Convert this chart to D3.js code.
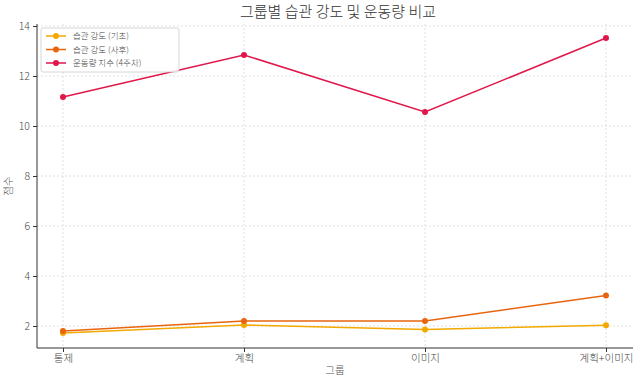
<!DOCTYPE html>
<html><head><meta charset="utf-8">
<script src="https://cdn.jsdelivr.net/npm/d3@7"></script>
<style>body{margin:0;background:#fff}svg{display:block}text{font-family:"Noto Sans CJK KR","Noto Sans",sans-serif;font-weight:300}</style>
</head><body>
<svg id="c" width="640" height="384"></svg>
<script>
const categories = ["통제", "계획", "이미지", "계획+이미지"];
const baseline = [1.72, 2.04, 1.86, 2.03];
const post = [1.80, 2.20, 2.20, 3.22];
const exercise = [11.16, 12.84, 10.56, 13.52];
const seriesNames = ["습관 강도 (기초)", "습관 강도 (사후)", "운동량 지수 (4주차)"];
const seriesColors = ["#f2a900", "#e8650f", "#e0174a"];
const yTicks = [2, 4, 6, 8, 10, 12, 14];
const title = "그룹별 습관 강도 및 운동량 비교";
const xTitle = "그룹";
const yTitle = "점수";

const series = [baseline, post, exercise];
const svg = d3.select("#c");
const L = 37, R = 633, T = 24, B = 348;
const x = d3.scalePoint().domain(categories).range([63, 606]);
const y = d3.scaleLinear().domain([1.12, 14.08]).range([B, T]);

// grid
const g = svg.append("g");
g.selectAll(".gx").data(categories).enter().append("line")
  .attr("x1", d => x(d)).attr("x2", d => x(d)).attr("y1", T).attr("y2", B)
  .attr("stroke", "#d8d8d8").attr("stroke-width", 0.8).attr("stroke-dasharray", "2,2");
g.selectAll(".gy").data(yTicks).enter().append("line")
  .attr("x1", L).attr("x2", R).attr("y1", d => y(d)).attr("y2", d => y(d))
  .attr("stroke", "#d8d8d8").attr("stroke-width", 0.8).attr("stroke-dasharray", "2,2");

// axes
const xa = svg.append("g").attr("transform", `translate(0,${B})`)
  .call(d3.axisBottom(x).tickSize(4).tickPadding(3));
const ya = svg.append("g").attr("transform", `translate(${L},0)`)
  .call(d3.axisLeft(y).tickValues(yTicks).tickSize(4).tickPadding(3));
[xa, ya].forEach(a => {
  a.select(".domain").remove();
  a.selectAll("line").attr("stroke", "#333");
  a.selectAll("text").attr("fill", "#444").attr("font-size", 10.5);
});
svg.append("line").attr("x1", L).attr("x2", L).attr("y1", T).attr("y2", B).attr("stroke", "#333").attr("stroke-width", 1);
svg.append("line").attr("x1", L).attr("x2", R).attr("y1", B).attr("y2", B).attr("stroke", "#333").attr("stroke-width", 1);

// lines
const line = d3.line().x((d, i) => x(categories[i])).y(d => y(d));
series.forEach((s, k) => {
  svg.append("path").datum(s).attr("d", line).attr("fill", "none")
    .attr("stroke", seriesColors[k]).attr("stroke-width", 1.5);
  svg.selectAll(null).data(s).enter().append("circle")
    .attr("cx", (d, i) => x(categories[i])).attr("cy", d => y(d)).attr("r", 3)
    .attr("fill", seriesColors[k]);
});

// titles
svg.append("text").attr("x", 338).attr("y", 17).attr("text-anchor", "middle")
  .attr("font-size", 15).attr("fill", "#333").text(title);
svg.append("text").attr("x", 335).attr("y", 374).attr("text-anchor", "middle")
  .attr("font-size", 10.5).attr("fill", "#555").text(xTitle);
svg.append("text").attr("transform", "translate(12,186) rotate(-90)").attr("text-anchor", "middle")
  .attr("font-size", 10.5).attr("fill", "#555").text(yTitle);

// legend
const lg = svg.append("g").attr("transform", "translate(41,28)");
lg.append("rect").attr("width", 138).attr("height", 44).attr("rx", 2)
  .attr("fill", "#fff").attr("fill-opacity", 0.85).attr("stroke", "#ccc").attr("stroke-width", 0.8);
seriesNames.forEach((n, k) => {
  const yy = 8 + k * 13.5;
  lg.append("line").attr("x1", 5).attr("x2", 25).attr("y1", yy).attr("y2", yy)
    .attr("stroke", seriesColors[k]).attr("stroke-width", 1.5);
  lg.append("circle").attr("cx", 15).attr("cy", yy).attr("r", 3).attr("fill", seriesColors[k]);
  lg.append("text").attr("x", 32).attr("y", yy + 3.3).attr("font-size", 8.5).attr("fill", "#444").text(n);
});
</script>
</body></html>
